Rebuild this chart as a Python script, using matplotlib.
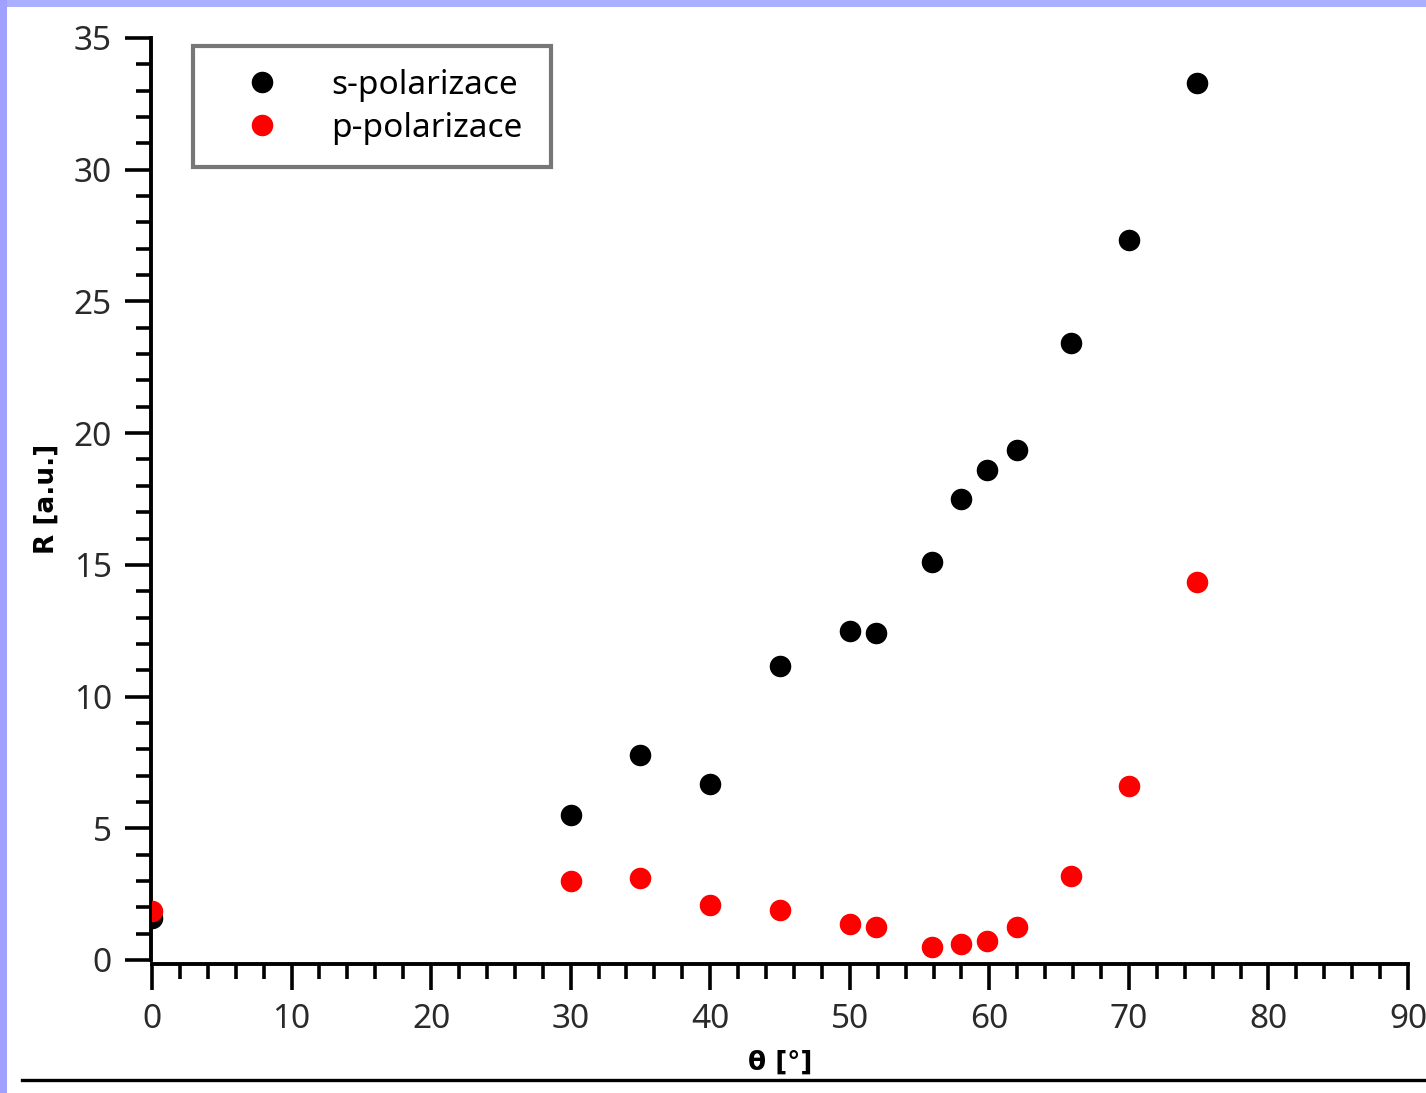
import matplotlib
matplotlib.use("Agg")
import matplotlib.pyplot as plt
from matplotlib.lines import Line2D
from matplotlib.patches import Rectangle
from matplotlib.ticker import MultipleLocator

# data
theta = [0, 30, 35, 40, 45, 50, 51.85, 55.9, 58, 59.85, 61.95, 65.85, 70, 74.85]
r_s = [1.6, 5.5, 7.8, 6.7, 11.15, 12.5, 12.4, 15.1, 17.5, 18.6, 19.36, 23.41, 27.33, 33.3]
r_p = [1.85, 3.0, 3.1, 2.1, 1.9, 1.37, 1.25, 0.5, 0.6, 0.72, 1.25, 3.2, 6.6, 14.35]
labels = ["s-polarizace", "p-polarizace"]
xlabel = "θ [°]"
ylabel = "R [a.u.]"

plt.rcParams['font.family'] = ['Noto Sans', 'DejaVu Sans']

W, H = 1426, 1093
fig = plt.figure(figsize=(W / 100, H / 100), dpi=100)
fig.patch.set_facecolor('white')

# lavender frame strips
fig.add_artist(Rectangle((0, 1 - 7 / H), 1, 7 / H, transform=fig.transFigure,
                         facecolor='#aab0ff', edgecolor='none', zorder=0))
fig.add_artist(Rectangle((0, 0), 7 / W, 1, transform=fig.transFigure,
                         facecolor='#a0a0ff', edgecolor='none', zorder=0))
# bottom rule
fig.add_artist(Line2D([22 / W, 1], [1 - 1080 / H, 1 - 1080 / H], transform=fig.transFigure,
                      color='black', lw=2.4))

ax = fig.add_axes([152 / W, 1 - 960 / H, (1408 - 152) / W, (960 - 38) / H])
ax.set_xlim(0, 90)
ax.set_ylim(0, 35)

ax.plot(theta, r_s, 'o', color='black', markersize=14.5, label=labels[0], clip_on=True, zorder=3)
ax.plot(theta, r_p, 'o', color='red', markersize=14.5, label=labels[1], clip_on=True, zorder=4)

for s in ['top', 'right']:
    ax.spines[s].set_visible(False)
ax.spines['bottom'].set_position(('outward', 3))
ax.spines['left'].set_position(('outward', 1))
for s in ['bottom', 'left']:
    ax.spines[s].set_linewidth(2.8)

ax.xaxis.set_major_locator(MultipleLocator(10))
ax.xaxis.set_minor_locator(MultipleLocator(2))
ax.yaxis.set_major_locator(MultipleLocator(5))
ax.yaxis.set_minor_locator(MultipleLocator(1))
ax.tick_params(which='major', direction='out', length=19, width=2.6, labelsize=24,
               labelcolor='#2a2a2a', pad=9)
ax.tick_params(which='minor', direction='out', length=11, width=2.6)

ax.set_xlabel(xlabel, fontsize=19, fontweight='bold', family='DejaVu Sans', labelpad=10)
ax.set_ylabel(ylabel, fontsize=19, fontweight='bold', family='DejaVu Sans', labelpad=10)

leg = ax.legend(loc='upper left', bbox_to_anchor=(193 / W, 1 - 163 / H, 358 / W, 117 / H),
                bbox_transform=fig.transFigure, borderaxespad=0, fontsize=24, mode='expand',
                frameon=True, fancybox=False, handlelength=2.76, handletextpad=0.7,
                borderpad=0.68, labelspacing=0.3, markerscale=1.0)
frame = leg.get_frame()
frame.set_edgecolor('#777777')
frame.set_linewidth(3)
frame.set_facecolor('white')
frame.set_alpha(1)

fig.savefig('out.png', dpi=100)
